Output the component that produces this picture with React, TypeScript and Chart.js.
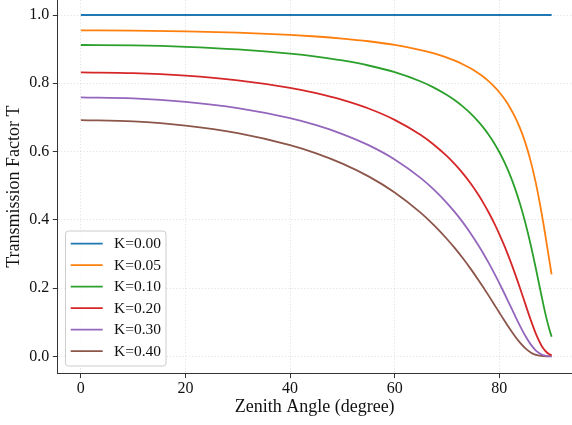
import React, { useEffect, useRef } from "react";
import { Chart, registerables } from "chart.js";

Chart.register(...registerables);

const angles = [0, 10, 20, 30, 40, 45, 50, 55, 60, 65, 67.5, 70, 71.5, 73, 74.5, 76, 77, 78, 79, 80, 81, 82, 83, 84, 85, 86, 87, 88, 88.5, 89, 89.5, 90];

const tK000 = [1, 1, 1, 1, 1, 1, 1, 1, 1, 1, 1, 1, 1, 1, 1, 1, 1, 1, 1, 1, 1, 1, 1, 1, 1, 1, 1, 1, 1, 1, 1, 1];
const tK005 = [0.955, 0.9544, 0.9522, 0.9483, 0.9418, 0.9371, 0.931, 0.9231, 0.9124, 0.8973, 0.8874, 0.8751, 0.8662, 0.8559, 0.8438, 0.8294, 0.8182, 0.8054, 0.7907, 0.7737, 0.7537, 0.73, 0.7015, 0.667, 0.6246, 0.5719, 0.5067, 0.4273, 0.3827, 0.3356, 0.2876, 0.2403];
const tK010 = [0.9121, 0.9108, 0.9068, 0.8992, 0.8869, 0.8781, 0.8668, 0.8521, 0.8324, 0.8052, 0.7874, 0.7657, 0.7503, 0.7325, 0.712, 0.6879, 0.6695, 0.6487, 0.6253, 0.5986, 0.568, 0.5329, 0.4922, 0.4448, 0.3901, 0.3271, 0.2567, 0.1826, 0.1465, 0.1126, 0.0827, 0.0577];
const tK020 = [0.8319, 0.8296, 0.8222, 0.8086, 0.7866, 0.7711, 0.7514, 0.7261, 0.6929, 0.6484, 0.6201, 0.5864, 0.5629, 0.5366, 0.5069, 0.4732, 0.4482, 0.4208, 0.391, 0.3583, 0.3227, 0.2839, 0.2422, 0.1979, 0.1522, 0.107, 0.0659, 0.0333, 0.0215, 0.0127, 0.0068, 0.0033];
const tK030 = [0.7588, 0.7556, 0.7455, 0.7272, 0.6977, 0.6771, 0.6513, 0.6187, 0.5768, 0.5221, 0.4883, 0.449, 0.4223, 0.3931, 0.3609, 0.3255, 0.3, 0.273, 0.2445, 0.2145, 0.1833, 0.1513, 0.1192, 0.088, 0.0594, 0.035, 0.0169, 0.0061, 0.0031, 0.0014, 0.0006, 0.0002];
const tK040 = [0.6921, 0.6882, 0.676, 0.6539, 0.6188, 0.5946, 0.5646, 0.5272, 0.4801, 0.4204, 0.3845, 0.3438, 0.3169, 0.288, 0.257, 0.2239, 0.2009, 0.1771, 0.1529, 0.1284, 0.1041, 0.0806, 0.0587, 0.0392, 0.0232, 0.0114, 0.0043, 0.0011, 0.0005, 0.0002, 0.0001, 0.0];

const seriesLabels = ["K=0.00", "K=0.05", "K=0.10", "K=0.20", "K=0.30", "K=0.40"];
const seriesValues = [tK000, tK005, tK010, tK020, tK030, tK040];
const seriesColors = ["#1f77b4", "#ff7f0e", "#2ca02c", "#d62728", "#9467bd", "#8c564b"];

const xTicks = [0, 20, 40, 60, 80];
const yTicks = [0, 0.2, 0.4, 0.6, 0.8, 1.0];

const FONT = "'Liberation Serif', 'Times New Roman', serif";

const legendPlugin = {
  id: "innerLegend",
  afterDraw(chart: any) {
    const ctx = chart.ctx;
    const bx = 65.5, by = 231, bw = 100.5, bh = 135;
    ctx.save();
    ctx.beginPath();
    if (ctx.roundRect) ctx.roundRect(bx, by, bw, bh, 3);
    else ctx.rect(bx, by, bw, bh);
    ctx.fillStyle = "rgba(255,255,255,0.8)";
    ctx.fill();
    ctx.strokeStyle = "#cccccc";
    ctx.lineWidth = 1;
    ctx.stroke();
    chart.data.datasets.forEach((ds: any, i: number) => {
      const y = 243.7 + i * 21.5;
      ctx.beginPath();
      ctx.moveTo(70.7, y);
      ctx.lineTo(102.7, y);
      ctx.strokeStyle = ds.borderColor;
      ctx.lineWidth = 1.8;
      ctx.stroke();
      ctx.fillStyle = "#111";
      ctx.font = `15.5px ${FONT}`;
      ctx.textBaseline = "middle";
      ctx.textAlign = "left";
      ctx.fillText(ds.label, 114, y + 0.5);
    });
    ctx.restore();
  },
};

export default function App() {
  const ref = useRef<HTMLCanvasElement | null>(null);
  useEffect(() => {
    if (!ref.current) return;
    const chart = new Chart(ref.current, {
      type: "line",
      data: {
        datasets: seriesLabels.map((label, i) => ({
          label,
          data: angles.map((a, j) => ({ x: a, y: seriesValues[i][j] })),
          borderColor: seriesColors[i],
          backgroundColor: seriesColors[i],
          borderWidth: 1.8,
          pointRadius: 0,
          fill: false,
          cubicInterpolationMode: "monotone" as const,
        })),
      },
      options: {
        responsive: false,
        animation: false,
        layout: { padding: 0 },
        plugins: { legend: { display: false }, tooltip: { enabled: false } },
        scales: {
          x: {
            type: "linear",
            min: -4.5,
            max: 93.9,
            afterBuildTicks: (s: any) => {
              s.ticks = xTicks.map((v) => ({ value: v }));
            },
            afterFit: (s: any) => {
              s.height = 51.6;
              s.paddingLeft = 0;
              s.paddingRight = 0;
            },
            ticks: {
              color: "#111",
              font: { family: FONT, size: 16 },
              padding: 1.5,
              maxRotation: 0,
              callback: (v: any) => String(v),
            },
            grid: {
              color: "rgba(0,0,0,0.14)",
              lineWidth: 0.8,
              tickColor: "#333",
              tickLength: 4.7,
              tickWidth: 1,
            },
            border: { display: true, color: "#333", width: 1, dash: [1.2, 2] },
            title: {
              display: true,
              text: "Zenith Angle (degree)",
              color: "#111",
              font: { family: FONT, size: 18 },
              padding: { top: 0, bottom: 6.7 },
            },
          },
          y: {
            type: "linear",
            min: -0.05,
            max: 1.044,
            afterBuildTicks: (s: any) => {
              s.ticks = yTicks.map((v) => ({ value: v }));
            },
            afterFit: (s: any) => {
              s.width = 57.3;
              s.paddingTop = 0;
              s.paddingBottom = 0;
            },
            ticks: {
              color: "#111",
              font: { family: FONT, size: 16 },
              padding: 3.5,
              callback: (v: any) => Number(v).toFixed(1),
            },
            grid: {
              color: "rgba(0,0,0,0.14)",
              lineWidth: 0.8,
              tickColor: "#333",
              tickLength: 4.5,
              tickWidth: 1,
            },
            border: { display: true, color: "#333", width: 1, dash: [1.2, 2] },
            title: {
              display: true,
              text: "Transmission Factor T",
              color: "#111",
              font: { family: FONT, size: 18 },
              padding: { top: 3.5, bottom: 0 },
            },
          },
        },
      },
      plugins: [legendPlugin],
    });
    return () => chart.destroy();
  }, []);
  return (
    <canvas
      ref={ref}
      width={572}
      height={425}
      style={{ position: "fixed", left: 0, top: 0, display: "block" }}
    />
  );
}
